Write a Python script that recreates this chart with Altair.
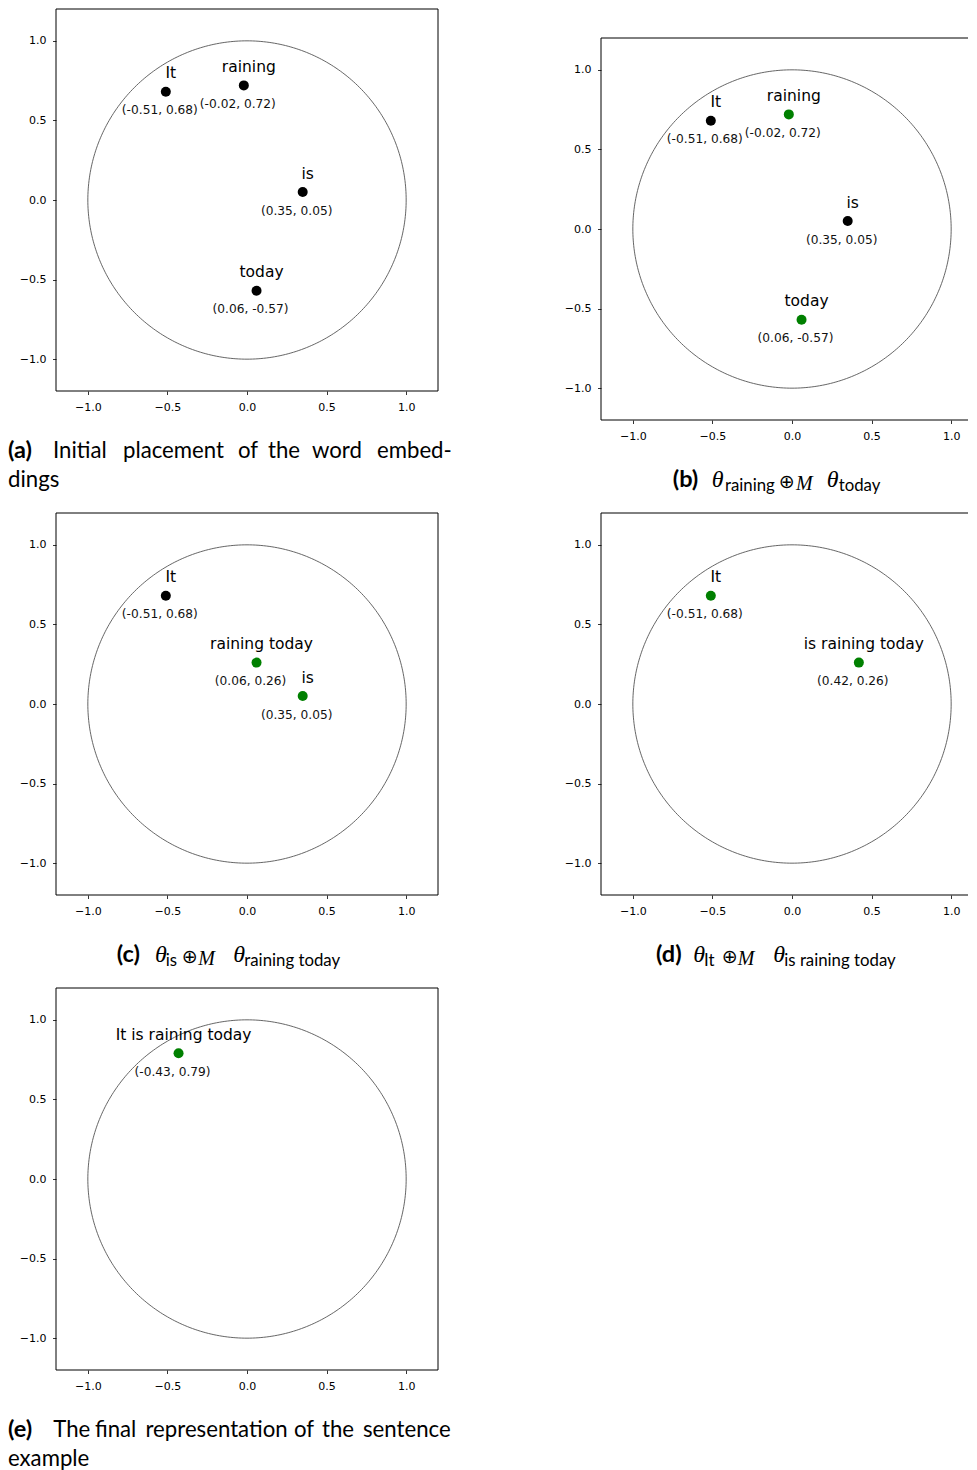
import altair as alt
import pandas as pd
import numpy as np

# ---------------- data ----------------
panel_words = [
    ["It", "raining", "is", "today"],
    ["It", "raining", "is", "today"],
    ["It", "raining today", "is"],
    ["It", "is raining today"],
    ["It is raining today"],
]
panel_x = [
    [-0.51, -0.02, 0.35, 0.06],
    [-0.51, -0.02, 0.35, 0.06],
    [-0.51, 0.06, 0.35],
    [-0.51, 0.42],
    [-0.43],
]
panel_y = [
    [0.68, 0.72, 0.05, -0.57],
    [0.68, 0.72, 0.05, -0.57],
    [0.68, 0.26, 0.05],
    [0.68, 0.26],
    [0.79],
]
panel_state = [
    ["initial", "initial", "initial", "initial"],
    ["initial", "merged", "initial", "merged"],
    ["initial", "merged", "merged"],
    ["merged", "merged"],
    ["merged"],
]
tick_values = [-1.0, -0.5, 0.0, 0.5, 1.0]
axis_lim = 1.2

# caption segments: (text, style, line)
captions = [
    [("(a)", "bold", 0), ("Initial", "rm", 0), ("placement", "rm", 0), ("of", "rm", 0),
     ("the", "rm", 0), ("word", "rm", 0), ("embed-", "rm", 0), ("dings", "rm", 1)],
    [("(b)", "bold", 0), ("θ", "mi", 0), ("raining", "sub", 0), ("⊕", "op", 0),
     ("M", "misub", 0), ("θ", "mi", 0), ("today", "sub", 0)],
    [("(c)", "bold", 0), ("θ", "mi", 0), ("is", "sub", 0), ("⊕", "op", 0),
     ("M", "misub", 0), ("θ", "mi", 0), ("raining today", "sub", 0)],
    [("(d)", "bold", 0), ("θ", "mi", 0), ("It", "sub", 0), ("⊕", "op", 0),
     ("M", "misub", 0), ("θ", "mi", 0), ("is raining today", "sub", 0)],
    [("(e)", "bold", 0), ("The", "rm", 0), ("final", "rm", 0), ("representation", "rm", 0),
     ("of", "rm", 0), ("the", "rm", 0), ("sentence", "rm", 0), ("example", "rm", 1)],
]
# ---------------- layout / styles (pixels, relative to each plot's top-left) ----------------
caption_x = [
    [-48, -3, 67, 182, 212, 256, 321, -48],
    [71.7, 110.7, 124, 177.7, 195, 225.7, 237.7],
    [60.7, 99, 109.7, 125.7, 142.3, 177.3, 188.3],
    [55, 92.3, 103, 120.7, 136.7, 172.3, 183.3],
    [-48, -2.7, 39, 89.5, 238, 266, 307, -48],
]
line_y = [449, 478]
styles = {
    "bold": dict(font="Lato", fontSize=23.5, fontWeight="bold", dy=0),
    "rm": dict(font="Lato", fontSize=22.2, fontWeight="normal", dy=0),
    "mi": dict(font="Liberation Serif", fontSize=24, fontStyle="italic", dy=0),
    "sub": dict(font="Lato", fontSize=16.8, fontWeight="normal", dy=4),
    "op": dict(font="DejaVu Sans", fontSize=19, fontWeight="normal", dy=1),
    "misub": dict(font="Liberation Serif", fontSize=20, fontStyle="italic", dy=3),
}
SIZE = 382                 # plot side in px
PX_PER_UNIT = SIZE / (2 * axis_lim)
RIGHT_W = 367              # right-column plots are cut by the page edge
col = [0, 1, 0, 1, 0]
top_gap = [0, 29, 0, 0, 0]  # (b) sits one caption line lower
frames = [                 # invisible layout boxes (x1, x2, y1, y2)
    (-48, 400, 0, 503),
    (-145, RIGHT_W, 0, 503),
    (-48, 400, 0, 474),
    (-145, RIGHT_W, 0, 474),
    (-48, 400, 0, 474),
]

angles = np.linspace(0, 2 * np.pi, 361)
circle_df = pd.DataFrame({"x": np.cos(angles), "y": np.sin(angles), "k": np.arange(361)})
one = pd.DataFrame({"d": [0]})


def panel(i):
    df = pd.DataFrame({
        "x": panel_x[i],
        "y": panel_y[i],
        "word": panel_words[i],
        "state": panel_state[i],
        "coord": [f"({a:.2f}, {b:.2f})" for a, b in zip(panel_x[i], panel_y[i])],
    })
    width = SIZE if col[i] == 0 else RIGHT_W
    xmax = -axis_lim + width / PX_PER_UNIT
    height = SIZE + top_gap[i]
    xs = alt.Scale(domain=[-axis_lim, xmax], nice=False, zero=False)
    ys = alt.Scale(domain=[-axis_lim, axis_lim], nice=False, zero=False,
                   range=[height, top_gap[i]])
    xax = alt.Axis(values=tick_values, format=".1f", title=None, labelPadding=7)
    yax = alt.Axis(values=tick_values, format=".1f", title=None, labelPadding=6.5)
    X = alt.X("x:Q", scale=xs, axis=xax)
    Y = alt.Y("y:Q", scale=ys, axis=yax)

    # frame (spines)
    segs = [(-axis_lim, -axis_lim, -axis_lim, axis_lim),
            (-axis_lim, axis_lim, min(axis_lim, xmax), axis_lim),
            (-axis_lim, -axis_lim, min(axis_lim, xmax), -axis_lim)]
    if col[i] == 0:
        segs.append((axis_lim, -axis_lim, axis_lim, axis_lim))
    fr = pd.DataFrame(segs, columns=["x", "y", "x2", "y2"])
    frame = alt.Chart(fr).mark_rule(color="#000", strokeWidth=1).encode(
        x=X, y=Y, x2="x2:Q", y2="y2:Q")

    circle = alt.Chart(circle_df).mark_line(stroke="#555555", strokeWidth=0.9).encode(
        x=X, y=Y, order=alt.Order("k:Q"))
    pts = alt.Chart(df).mark_circle(size=100, opacity=1).encode(
        x=X, y=Y,
        color=alt.Color("state:N", scale=alt.Scale(domain=["initial", "merged"],
                                                   range=["#000000", "#008000"]), legend=None))
    words = alt.Chart(df).mark_text(font="DejaVu Sans", fontSize=15.5, dx=5, dy=-13.4,
                                    baseline="alphabetic", align="center", color="#000").encode(
        x=X, y=Y, text="word:N")
    coords = alt.Chart(df).mark_text(font="DejaVu Sans", fontSize=12.2, dx=-6, dy=22.6,
                                     baseline="alphabetic", align="center", color="#111").encode(
        x=X, y=Y, text="coord:N")
    layers = [frame, circle, pts, words, coords]

    for (txt, st, line), cx in zip(captions[i], caption_x[i]):
        s = dict(styles[st])
        dy = s.pop("dy")
        layers.append(
            alt.Chart(one).mark_text(text=txt, align="left", baseline="alphabetic",
                                     color="#000", **s).encode(
                x=alt.value(cx), y=alt.value(line_y[line] + top_gap[i] + dy)))
    fx1, fx2, fy1, fy2 = frames[i]
    layers.append(alt.Chart(one).mark_rect(opacity=0).encode(
        x=alt.value(fx1), x2=alt.value(fx2), y=alt.value(fy1), y2=alt.value(fy2)))
    return alt.layer(*layers).properties(width=width, height=height)


chart = alt.concat(*[panel(i) for i in range(5)], columns=2, spacing=0).properties(
    padding=0
).configure_view(stroke=None).configure_axis(
    grid=False, domain=False, ticks=True, tickSize=3.5, tickWidth=0.8, tickColor="#000",
    labelFont="DejaVu Sans", labelFontSize=11, labelColor="#000",
).configure_concat(spacing=0)

chart.save("out.html", embed_options={"renderer": "svg", "actions": False})
